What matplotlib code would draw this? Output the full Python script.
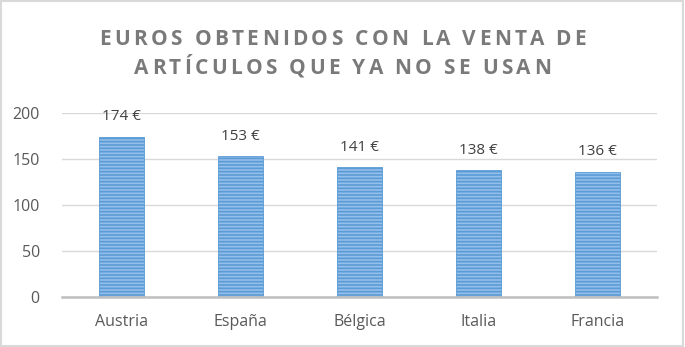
import matplotlib.pyplot as plt
import matplotlib.patches as mpatches

paises = ['Austria', 'España', 'Bélgica', 'Italia', 'Francia']
euros = [174, 153, 141, 138, 136]
yticks = [0, 50, 100, 150, 200]
titulo = ['EUROS OBTENIDOS CON LA VENTA DE', 'ARTÍCULOS QUE YA NO SE USAN']

plt.rcParams['hatch.linewidth'] = 1.2
plt.rcParams['font.family'] = ['Open Sans', 'DejaVu Sans']

fig = plt.figure(figsize=(6.85, 3.47), dpi=100)
ax = fig.add_axes([0.0905, 0.1441, 0.8685, 0.5303])

bars = ax.bar(paises, euros, width=0.38, color='#94bfea', edgecolor='#5b9bd5',
              hatch='-----', linewidth=0.6, zorder=3)

for b, v in zip(bars, euros):
    ax.annotate(f'{v} €', (b.get_x() + b.get_width() / 2, v),
                xytext=(0, 9), textcoords='offset points',
                ha='center', va='bottom', fontsize=11, color='#404040')

ax.set_ylim(0, 200)
ax.set_xlim(-0.5, len(paises) - 0.5)
ax.set_yticks(yticks)
ax.grid(axis='y', color='#d9d9d9', linewidth=1, zorder=0)
for s in ['top', 'right', 'left']:
    ax.spines[s].set_visible(False)
ax.spines['bottom'].set_color('#bfbfbf')
ax.spines['bottom'].set_linewidth(1.8)
ax.spines['bottom'].set_zorder(4)
ax.tick_params(axis='both', length=0, labelsize=11.5, labelcolor='#595959')
ax.tick_params(axis='x', pad=12)
ax.tick_params(axis='y', pad=16)

# title with letter spacing, one character at a time
renderer = fig.canvas.get_renderer()
tkw = dict(fontsize=15, fontweight='bold', color='#7a7a7a', va='baseline')
spacing = 3.4  # pixels between letters


def text_width(s):
    t = fig.text(0, 0, s, **tkw)
    w = t.get_window_extent(renderer).width
    t.remove()
    return w


wx = text_width('X')
for linea, yb in zip(titulo, [0.870, 0.787]):
    offs = [text_width(linea[:i] + 'X') - wx + i * spacing for i in range(len(linea))]
    total = text_width(linea) + (len(linea) - 1) * spacing
    x0 = 685 / 2 - total / 2
    for ch, o in zip(linea, offs):
        if ch != ' ':
            fig.text((x0 + o) / 685, yb, ch, ha='left', **tkw)

fig.patches.append(mpatches.Rectangle((0.002, 0.003), 0.995, 0.993,
                                      transform=fig.transFigure, fill=False,
                                      edgecolor='#d9d9d9', linewidth=1.5))

fig.savefig('out.png', dpi=100)
